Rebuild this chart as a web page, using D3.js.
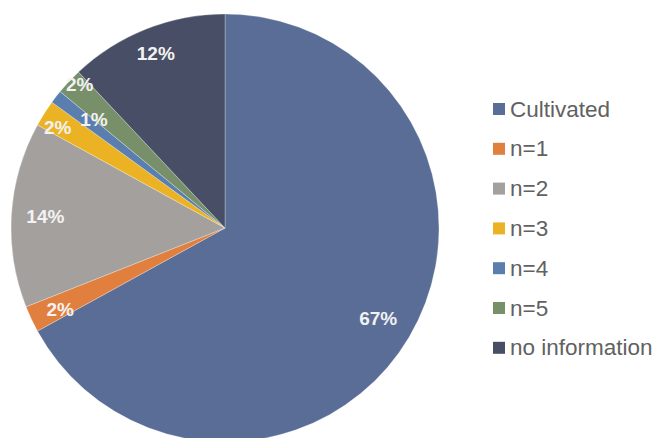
<!DOCTYPE html>
<html>
<head>
<meta charset="utf-8">
<script src="https://cdn.jsdelivr.net/npm/d3@7"></script>
<style>
  html, body { margin: 0; padding: 0; background: #fff; }
  svg { display: block; }
</style>
</head>
<body>
<svg id="chart" width="657" height="438"></svg>
<script>
// Share of records by category (percent)
const categories = ["Cultivated", "n=1", "n=2", "n=3", "n=4", "n=5", "no information"];
const shares = [67, 2, 14, 2, 1, 2, 12];
const colors = ["#596d97", "#e07f3e", "#a4a09e", "#ebb324", "#5a7fae", "#77906a", "#484e66"];

const W = 657, H = 438;
const cx = 225, cy = 228, R = 214;

const svg = d3.select("#chart");

const pie = d3.pie().sort(null).value(d => d.value)
  .startAngle(0).endAngle(2 * Math.PI);
const data = categories.map((c, i) => ({ name: c, value: shares[i], color: colors[i] }));
const arcs = pie(data);

const arc = d3.arc().innerRadius(0).outerRadius(R);

const g = svg.append("g").attr("transform", `translate(${cx},${cy})`);

g.selectAll("path.slice")
  .data(arcs)
  .join("path")
  .attr("class", "slice")
  .attr("d", arc)
  .attr("fill", d => d.data.color)
  .attr("stroke", "rgba(255,255,255,0.35)")
  .attr("stroke-width", 0.8);

// Percent labels; the narrow slices get their labels nudged apart
const labelRadius = { "Cultivated": 178, "n=1": 184, "n=2": 180, "n=3": 195, "n=4": 170, "n=5": 204, "no information": 188 };
const labelAngleShift = { "n=1": -0.02, "n=3": -0.026, "n=4": 0.03, "n=5": 0.024 };

g.selectAll("text.pct")
  .data(arcs)
  .join("text")
  .attr("class", "pct")
  .attr("transform", d => {
    const a = (d.startAngle + d.endAngle) / 2 + (labelAngleShift[d.data.name] || 0);
    const r = labelRadius[d.data.name];
    return `translate(${r * Math.sin(a)},${-r * Math.cos(a)})`;
  })
  .attr("text-anchor", "middle")
  .attr("dominant-baseline", "central")
  .attr("font-family", "Liberation Sans, Arial, sans-serif")
  .attr("font-weight", "bold")
  .attr("font-size", 19)
  .attr("fill", "#f2f2f2")
  .text(d => `${d.data.value}%`);

// Legend
const legend = svg.append("g").attr("transform", "translate(493,109)");
const rowH = 39.8;
const item = legend.selectAll("g.item")
  .data(data)
  .join("g")
  .attr("class", "item")
  .attr("transform", (d, i) => `translate(0,${i * rowH})`);

item.append("rect")
  .attr("x", 0).attr("y", -6)
  .attr("width", 12).attr("height", 12)
  .attr("fill", d => d.color);

item.append("text")
  .attr("x", 17).attr("y", 0)
  .attr("dominant-baseline", "central")
  .attr("font-family", "Liberation Sans, Arial, sans-serif")
  .attr("font-size", 22.5)
  .attr("fill", "#616161")
  .text(d => d.name);
</script>
</body>
</html>
